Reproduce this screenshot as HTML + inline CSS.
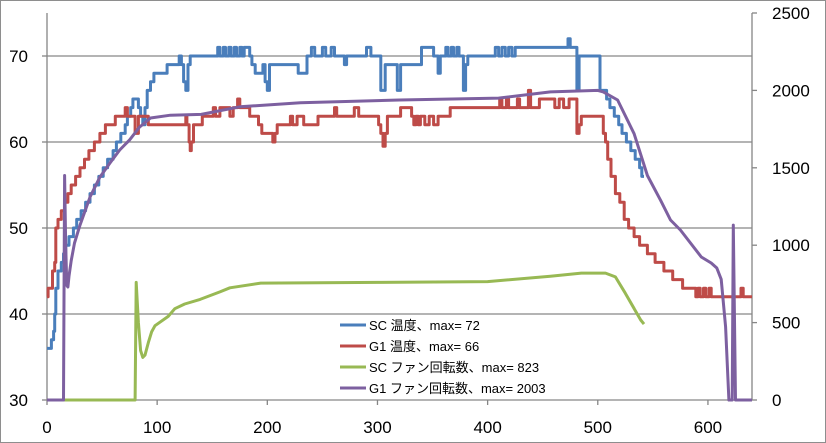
<!DOCTYPE html>
<html><head><meta charset="utf-8"><style>
html,body{margin:0;padding:0;background:#fff;}
svg{display:block;font-family:"Liberation Sans","Noto Sans CJK JP",sans-serif;}
</style></head><body>
<svg id="chart" width="826" height="443" viewBox="0 0 826 443">
<rect x="0.5" y="0.5" width="825" height="442" fill="#fff" stroke="#8e8e8e"/>
<g id="grid"></g>
<g id="axes"></g>
<g id="series"></g>
<g id="legend"></g>
</svg>
<script>
const xTicks=[0,100,200,300,400,500,600];
const leftTicks=[30,40,50,60,70];
const rightTicks=[0,500,1000,1500,2000,2500];
const seriesNames=["SC 温度、max= 72","G1 温度、max= 66","SC ファン回転数、max= 823","G1 ファン回転数、max= 2003"];
const scTemp=[[0,36],[4,37],[6,38],[7,40],[8,43],[10,45],[13,46],[15,47],[17,48],[20,49],[24,50],[27,51],[31,52],[35,53],[39,54],[43,55],[47,56],[51,57],[55,58],[60,59],[63,60],[67,61],[71,62],[73,63],[76,64],[78,65],[83,64],[85,63],[87,62],[89,64],[91,66],[94,67],[97,68],[109,69],[120,70],[122,69],[124,67],[126,66],[128,69],[130,70],[155,71],[157,70],[160,71],[162,70],[165,71],[167,70],[170,71],[172,70],[175,71],[177,70],[179,71],[184,70],[186,69],[189,68],[196,69],[198,67],[200,66],[202,69],[228,68],[236,70],[240,71],[243,70],[250,71],[253,70],[258,71],[261,70],[270,69],[272,70],[290,71],[294,70],[303,66],[307,69],[318,66],[321,69],[340,71],[351,70],[355,68],[357,70],[362,71],[364,70],[367,71],[369,70],[372,71],[374,70],[378,66],[380,69],[382,70],[407,71],[410,70],[413,71],[416,70],[419,71],[422,70],[425,71],[473,72],[475,71],[481,66],[483,70],[502,66],[508,65],[511,64],[515,63],[519,62],[522,61],[526,60],[530,59],[534,58],[538,57],[540,56],[542,56]];
const g1Temp=[[0,42],[1,43],[5,45],[7,46],[8,50],[10,51],[13,52],[16,53],[19,54],[22,55],[26,56],[30,57],[34,58],[38,59],[43,60],[48,61],[53,62],[62,63],[71,64],[73,63],[80,61],[83,63],[92,62],[126,63],[127,62],[129,60],[130,59],[131,60],[133,62],[141,63],[151,64],[153,63],[157,64],[166,63],[169,64],[173,65],[175,64],[184,63],[192,62],[195,61],[205,60],[207,61],[209,62],[221,63],[223,62],[227,63],[233,62],[246,63],[261,64],[263,63],[279,64],[283,63],[301,62],[303,61],[305,59.5],[307,61],[309,63],[321,64],[331,63],[333,62],[335,63],[337,62],[339,63],[343,62],[347,63],[351,62],[355,63],[366,64],[411,65],[413,64],[417,65],[419,64],[427,65],[429,64],[437,66],[439,64],[447,65],[461,64],[465,65],[469,64],[474,65],[481,61],[483,62],[485,63],[505,61],[507,60],[509,58],[512,56],[516,54],[520,53],[524,51],[528,50],[533,49],[538,48],[545,47],[552,46],[560,45],[568,44],[577,43],[589,42],[591,43],[593,42],[596,43],[598,42],[601,43],[603,42],[630,43],[632,42],[640,42]];
const scFan=[[0,0],[80,0],[81,760],[83,500],[85,320],[87,275],[89,290],[92,370],[95,440],[98,480],[103,505],[110,540],[116,590],[125,620],[139,650],[157,698],[166,725],[194,755],[300,760],[400,765],[457,800],[485,820],[507,820],[516,795],[525,690],[539,517],[542,490]];
const g1Fan=[[0,0],[15,0],[16,1450],[17,1000],[18,740],[19,730],[20,800],[22,900],[25,1014],[30,1130],[39,1311],[48,1440],[57,1530],[66,1615],[75,1680],[84,1763],[94,1822],[112,1840],[140,1845],[175,1894],[230,1920],[320,1938],[410,1950],[457,1990],[500,2000],[505,1990],[518,1938],[533,1720],[545,1450],[557,1290],[566,1163],[575,1098],[594,924],[603,885],[608,853],[612,780],[616,472],[619,0],[622,0],[623,1130],[625,0],[640,0]];

const NS="http://www.w3.org/2000/svg";
const L=47,R=752,T=13,B=400;
const xS=v=>L+v/640*(R-L);
const yL=v=>B-(v-30)/45*(B-T);
const yR=v=>B-v/2500*(B-T);
function mk(tag,attrs,parent){const e=document.createElementNS(NS,tag);for(const k in attrs)e.setAttribute(k,attrs[k]);parent.appendChild(e);return e;}
const grid=document.getElementById('grid'),axes=document.getElementById('axes'),ser=document.getElementById('series'),leg=document.getElementById('legend');
leftTicks.forEach(t=>{
  const y=yL(t);
  if(t>30){const g=mk('line',{x1:L,x2:R,y1:y,y2:y,stroke:'#868686','stroke-width':1.3},grid);
  
  }
  const tk=mk('line',{x1:L-5,x2:L,y1:y,y2:y,stroke:'#868686','stroke-width':1.3},axes);
  
  
  const tx=mk('text',{x:28,y:y+6,'text-anchor':'end','font-size':17,fill:'#000'},axes);
  tx.textContent=t;
  
  
});
rightTicks.forEach(t=>{
  const y=yR(t);
  const tk=mk('line',{x1:R,x2:R+5,y1:y,y2:y,stroke:'#868686','stroke-width':1.3},axes);
  
  
  const tx=mk('text',{x:772,y:y+6,'text-anchor':'start','font-size':17,fill:'#000'},axes);
  tx.textContent=t;
  
  
});
xTicks.forEach(t=>{
  const x=xS(t);
  const tk=mk('line',{x1:x,x2:x,y1:B,y2:B+5,stroke:'#868686','stroke-width':1.3},axes);
  
  
  const tx=mk('text',{x:x,y:433,'text-anchor':'middle','font-size':17,fill:'#000'},axes);
  tx.textContent=t;
  
  
});
const la=mk('line',{x1:L,x2:L,y1:T,y2:B,stroke:'#868686','stroke-width':1.3},axes);


const ra=mk('line',{x1:R,x2:R,y1:T,y2:B,stroke:'#868686','stroke-width':1.3},axes);


const xa=mk('line',{x1:L,x2:R,y1:B,y2:B,stroke:'#868686','stroke-width':1.3},axes);



const colors=['#4a7ebb','#be4b48','#98b954','#7d60a0'];
const defs=[[scTemp,yL,'sc-temp-line',true],[g1Temp,yL,'g1-temp-line',true],[scFan,yR,'sc-fan-line',false],[g1Fan,yR,'g1-fan-line',false]];
[2,0,1,3].forEach(i=>{
  const [d,yf,name,step]=defs[i];
  const pts=[];
  d.forEach((p,j)=>{
    const x=xS(p[0]),y=yf(p[1]);
    if(step&&j>0){pts.push(x.toFixed(1)+','+yf(d[j-1][1]).toFixed(1));}
    pts.push(x.toFixed(1)+','+y.toFixed(1));
  });
  const p=mk('polyline',{points:pts.join(' '),fill:'none',stroke:colors[i],'stroke-width':3,'stroke-linejoin':'round'},ser);
  
  
});
seriesNames.forEach((n,i)=>{
  const y=325+i*21;
  const g=mk('g',{},leg);
  
  
  mk('line',{x1:340,x2:366,y1:y,y2:y,stroke:colors[i],'stroke-width':3},g);
  const t=mk('text',{x:369,y:y+5,'font-size':13,fill:'#000'},g);
  t.textContent=n;
});
</script>
</body></html>
